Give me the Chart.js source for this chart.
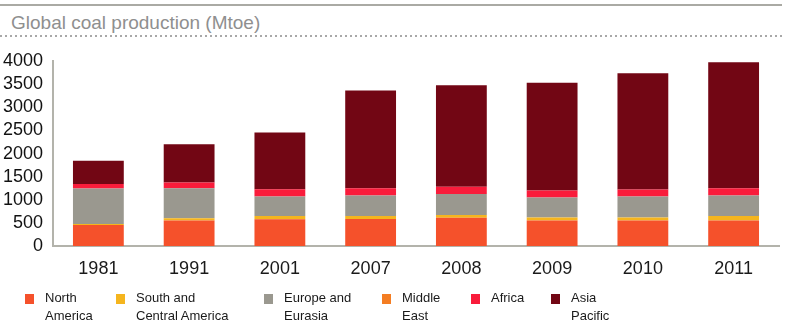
<!DOCTYPE html>
<html>
<head>
<meta charset="utf-8">
<script src="https://cdn.jsdelivr.net/npm/chart.js@4.4.0/dist/chart.umd.min.js"></script>
<style>
    html, body { margin: 0; padding: 0; background: #fff; }
    body { width: 785px; height: 321px; position: relative; overflow: hidden; font-family: "Liberation Sans", Arial, sans-serif; }
    #topline { position: absolute; left: 0; top: 4px; width: 782px; height: 2px; background: #aaaaa4; }
    #title { position: absolute; left: 11px; top: 12px; font-size: 19px; color: #8f8f8f; }
    #dots { position: absolute; left: 0; top: 35px; width: 782px; height: 2px;
        background: repeating-linear-gradient(to right, #a8a8a8 0 2px, transparent 2px 5px); }
    #wrap { position: absolute; left: 0; top: 0; width: 785px; height: 321px; }
    #legend { position: absolute; left: 25px; top: 289px; display: flex; font-size: 13px; line-height: 18px; color: #1a1a1a; }
    .item { display: flex; align-items: flex-start; }
    .item:nth-child(1) { width: 91px; }
    .item:nth-child(2) { width: 148px; }
    .item:nth-child(3) { width: 118px; }
    .item:nth-child(4) { width: 89px; }
    .item:nth-child(5) { width: 80px; }
    .item:nth-child(6) { width: 80px; }
    .sw { width: 9px; height: 10px; margin-top: 5px; margin-right: 11px; flex: none; }
    .lbl { white-space: pre-line; }
</style>
</head>
<body>
<div id="topline"></div>
<div id="title">Global coal production (Mtoe)</div>
<div id="dots"></div>
<div id="wrap"><canvas id="chart"></canvas></div>
<div id="legend"></div>
<script>
// Dados (Mtoe)
var years = ['1981', '1991', '2001', '2007', '2008', '2009', '2010', '2011'];
var northAmerica = [460, 560, 585, 590, 620, 560, 560, 560];
var southCentralAmerica = [25, 45, 70, 65, 60, 65, 65, 95];
var europeEurasia = [765, 648, 422, 444, 452, 429, 451, 444];
var middleEast = [1, 1, 1, 1, 1, 1, 1, 1];
var africa = [95, 124, 153, 153, 152, 153, 153, 153];
var asiaPacific = [503, 824, 1224, 2113, 2193, 2325, 2507, 2719];
var yTicks = [0, 500, 1000, 1500, 2000, 2500, 3000, 3500, 4000];

var seriesNames = ['North\nAmerica', 'South and\nCentral America', 'Europe and\nEurasia', 'Middle\nEast', 'Africa', 'Asia\nPacific'];
var seriesData = [northAmerica, southCentralAmerica, europeEurasia, middleEast, africa, asiaPacific];
var seriesColors = ['#f5512b', '#f5b51e', '#9a988f', '#f47d22', '#f91c3b', '#720614'];

var datasets = seriesNames.map(function(name, i) {
    return {
        label: name,
        data: seriesData[i],
        backgroundColor: seriesColors[i],
        borderWidth: 0,
        categoryPercentage: 0.8,
        barPercentage: 0.7
    };
});

// legenda em HTML
var legend = document.getElementById('legend');
seriesNames.forEach(function(name, i) {
    var item = document.createElement('div');
    item.className = 'item';
    item.innerHTML = '<div class="sw" style="background:' + seriesColors[i] + '"></div><div class="lbl"></div>';
    item.querySelector('.lbl').textContent = name;
    legend.appendChild(item);
});

var axisColor = '#b3b3ab';

var ctx = document.getElementById('chart').getContext('2d');
var myChart = new Chart(ctx, {
    type: 'bar',
    data: { labels: years, datasets: datasets },
    options: {
        responsive: true,
        maintainAspectRatio: false,
        animation: false,
        layout: { padding: { top: 61, right: 6, left: 0, bottom: 29 } },
        plugins: { legend: { display: false }, tooltip: { enabled: false } },
        scales: {
            x: {
                stacked: true,
                grid: { display: true, color: 'rgba(0,0,0,0)', drawTicks: false },
                border: { display: true, color: axisColor, width: 2 },
                ticks: { color: '#1a1a1a', padding: 12, font: { family: 'Liberation Sans', size: 18 } }
            },
            y: {
                stacked: true,
                min: 0,
                max: 4000,
                afterBuildTicks: function(scale) {
                    scale.ticks = yTicks.map(function(v) { return { value: v }; });
                },
                afterFit: function(scale) { scale.width = 53; },
                grid: { display: true, color: 'rgba(0,0,0,0)', drawTicks: false },
                border: { display: true, color: axisColor, width: 2 },
                ticks: {
                    autoSkip: false,
                    color: '#111',
                    padding: 10,
                    font: { family: 'Liberation Sans', size: 18 },
                    callback: function(v) { return String(v); }
                }
            }
        }
    }
});
</script>
</body>
</html>
